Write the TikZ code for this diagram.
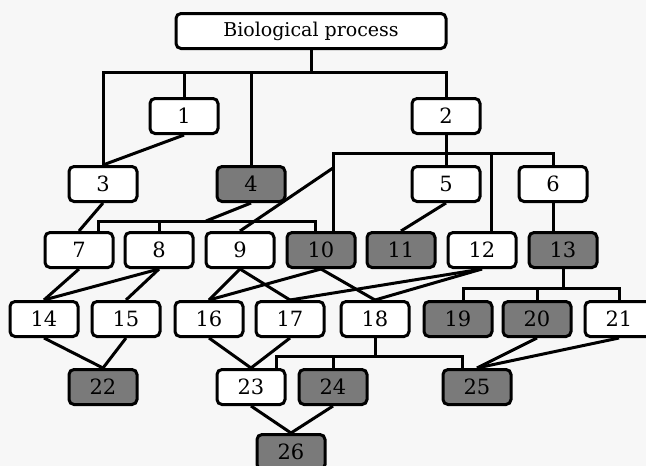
\documentclass[tikz,border=0pt]{standalone}
\usepackage{fontspec}
\setmainfont{DejaVu Serif}

\begin{document}
\begin{tikzpicture}[x=1pt, y=-1pt, line width=3pt,
		term/.style={draw, rounded corners=5pt, minimum width=68pt, minimum height=35pt, inner sep=0pt, fill=white, font=\fontsize{21}{24}\selectfont},
		hit/.style={term, fill=black!52}]
		\fill[gray!6] (0,0) rectangle (646,466);
		\useasboundingbox (0,0) rectangle (646,466);
		\node[term, minimum width=270pt, font=\fontsize{19}{22}\selectfont] (bp) at (311,31) {Biological process};
		% plain terms
		\foreach \n/\px/\py in {1/184/116, 2/446/116, 3/103/184, 5/446/184, 6/553/184, 7/79/250, 8/159/250, 9/240/250, 12/482/250, 14/44/319, 15/126/319, 16/209/319, 17/290/319, 18/375/319, 21/619/319, 23/251/387} {
			\node[term] (t\n) at (\px,\py) {\n};
		}
		% shaded terms
		\foreach \n/\px/\py in {4/251/184, 10/321/250, 11/401/250, 13/563/250, 19/458/319, 20/537/319, 22/103/387, 24/333/387, 25/477/387, 26/291/452} {
			\node[hit] (t\n) at (\px,\py) {\n};
		}
		% bus lines
		\coordinate (busA) at (0,72);
		\coordinate (busB) at (0,153);
		\coordinate (busC) at (0,221);
		\coordinate (busD) at (0,288);
		\coordinate (busE) at (0,356);
		\coordinate (kB) at (333,153);
		\coordinate (kC) at (333,168);
		\coordinate (kD) at (206,221);
		\draw (bp.south) -- (bp |- busA);
		\draw (t3.north) -- (t3 |- busA) -| (t2.north);
		\draw (t1.north) -- (t1 |- busA);
		\draw (t4.north) -- (t4 |- busA);
		\draw (t2.south) -- (t5.north);
		\draw (t6.north) |- (kB) -- (kB |- t10.north);
		\draw ([xshift=9pt]t12.north) -- ([xshift=9pt]t12.north |- busB);
		\draw (t9.north) -- (kC);
		\draw ([xshift=19pt]t7.north) |- ([xshift=-6pt]t10.north |- busC) -- ([xshift=-6pt]t10.north);
		\draw (t8.north) -- (t8 |- busC);
		\draw (t4.south) -- (kD);
		\draw (t13.south) -- (t13 |- busD);
		\draw ([xshift=5pt]t19.north) |- (t21 |- busD) -- (t21.north);
		\draw (t20.north) -- (t20 |- busD);
		\draw (t18.south) -- (t18 |- busE);
		\draw ([xshift=25pt]t23.north) |- ([xshift=-15pt]t25.north |- busE) -- ([xshift=-15pt]t25.north);
		\draw (t24.north) -- (t24 |- busE);
		\draw (t6.south) -- (t6.south |- t13.north);
		% direct links
		\foreach \a/\b in {1/3, 3/7, 5/11, 7/14, 8/14, 8/15, 9/16, 9/17, 10/16, 10/18, 12/17, 12/18, 14/22, 15/22, 16/23, 17/23, 20/25, 21/25, 23/26, 24/26} {
			\draw (t\a.south) -- (t\b.north);
		}
	\end{tikzpicture}
\end{document}
